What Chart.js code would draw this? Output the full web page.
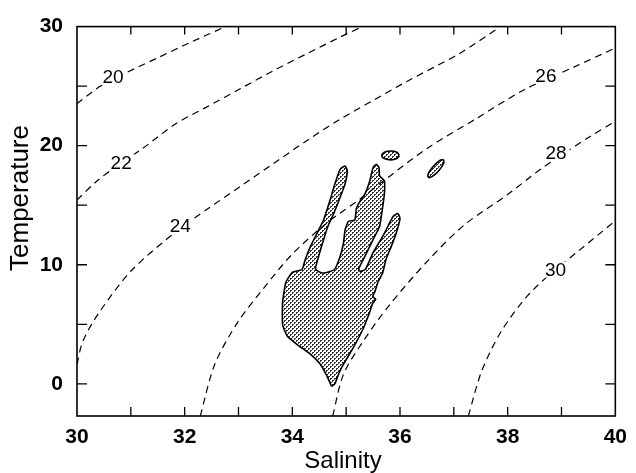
<!DOCTYPE html>
<html>
<head>
<meta charset="utf-8">
<script src="https://cdn.jsdelivr.net/npm/chart.js@4/dist/chart.umd.min.js"></script>
<style>
  html, body { margin: 0; padding: 0; background: #fff; }
</style>
</head>
<body>
<canvas id="ts" width="636" height="473"></canvas>
<script>
// axis ticks
const xTicks = [30, 32, 34, 36, 38, 40];
const yTicks = [0, 10, 20, 30];
const xMinor = [31, 32, 33, 34, 35, 36, 37, 38, 39];
const yMinor = [0, 5, 10, 15, 20, 25];

// sigma-t contours, [salinity, temperature]
const sigma20 = [[30.0, 23.55], [30.47, 25.1], [30.9, 26.1], [31.51, 27.4], [32.12, 28.7], [32.76, 30.0]];
const sigma22 = [[30.0, 15.44], [30.35, 16.95], [30.81, 18.55], [31.2, 19.7], [31.82, 21.8], [32.43, 23.3], [33.04, 24.8], [33.65, 26.3], [34.26, 27.7], [34.88, 29.1], [35.3, 30.0]];
const sigma24 = [[30.0, 1.65], [30.11, 3.6], [30.42, 6.05], [31.03, 9.6], [31.9, 13.0], [32.43, 14.7], [33.04, 16.6], [33.65, 18.5], [34.26, 20.4], [34.88, 22.2], [35.5, 23.8], [36.17, 25.5], [37.09, 27.7], [37.85, 29.95]];
const sigma26 = [[32.29, -2.7], [32.56, 1.65], [32.99, 5.2], [33.48, 8.1], [34.0, 10.9], [34.64, 13.5], [35.25, 15.5], [35.74, 17.2], [36.48, 19.7], [37.39, 22.2], [38.31, 24.7], [39.23, 26.6], [40.0, 28.2]];
const sigma28 = [[34.75, -2.7], [34.95, 0.8], [35.32, 3.6], [35.8, 6.6], [36.54, 10.45], [37.21, 13.4], [38.0, 15.9], [38.62, 18.05], [39.54, 20.8], [40.0, 22.05]];
const sigma30 = [[37.27, -2.7], [37.52, 1.1], [37.88, 4.4], [38.37, 7.4], [38.86, 9.5], [39.3, 11.1], [40.0, 13.7]];

const contourLabels = ['20', '22', '24', '26', '28', '30'];
const labelS = [30.67, 30.82, 31.92, 38.71, 38.9, 38.89];
const labelT = [25.8, 18.6, 13.3, 25.9, 19.4, 9.6];

// shaded water-mass outline
const hand = [[34.73, -0.22], [34.64, 0.69], [34.52, 1.65], [34.34, 2.48], [34.09, 3.30], [33.91, 3.99], [33.82, 4.95], [33.82, 6.88], [33.88, 8.53], [34.00, 9.36], [34.18, 9.60], [34.24, 10.45], [34.34, 11.56], [34.46, 12.66], [34.58, 13.76], [34.70, 15.41], [34.79, 16.79], [34.89, 18.03], [34.98, 18.30], [35.02, 17.89], [34.98, 16.79], [34.89, 15.69], [34.77, 14.31], [34.67, 13.34], [34.58, 12.11], [34.49, 10.73], [34.43, 9.63], [34.55, 9.31], [34.70, 9.44], [34.79, 9.63], [34.89, 10.73], [34.95, 11.83], [34.98, 12.93], [35.04, 13.63], [35.16, 13.76], [35.19, 14.72], [35.25, 15.28], [35.35, 15.96], [35.44, 17.06], [35.50, 18.17], [35.56, 18.44], [35.61, 18.17], [35.62, 17.47], [35.71, 17.06], [35.71, 15.96], [35.67, 14.58], [35.62, 13.21], [35.50, 12.11], [35.35, 10.73], [35.23, 9.63], [35.27, 9.44], [35.36, 9.63], [35.50, 11.01], [35.68, 12.39], [35.87, 14.04], [35.96, 14.31], [36.00, 13.90], [35.93, 12.66], [35.84, 11.56], [35.74, 10.45], [35.68, 9.36], [35.59, 8.53], [35.53, 7.70], [35.49, 7.35], [35.55, 7.10], [35.49, 6.74], [35.44, 6.05], [35.32, 4.67], [35.13, 3.02], [34.95, 1.65], [34.86, 0.83], [34.79, 0.00], [34.73, -0.22]];
const blobA = [[35.99, 19.18], [35.94, 19.45], [35.83, 19.55], [35.71, 19.45], [35.66, 19.18], [35.71, 18.92], [35.83, 18.81], [35.94, 18.92], [35.99, 19.18]];
const blobB = [[36.81, 18.84], [36.81, 18.50], [36.72, 17.90], [36.60, 17.42], [36.53, 17.34], [36.53, 17.69], [36.62, 18.28], [36.74, 18.76], [36.81, 18.84]];

const FONT = '"Liberation Sans", Arial, Helvetica, sans-serif';

function toXY(arr) {
    return arr.map(p => ({ x: p[0], y: p[1] }));
}

// dotted fill like the printed stipple
function stipple() {
    let c = document.createElement('canvas');
    c.width = 4; c.height = 4;
    let g = c.getContext('2d');
    g.fillStyle = '#fff';
    g.fillRect(0, 0, 4, 4);
    g.fillStyle = '#333';
    [[0, 0], [1, 0], [0, 1], [2, 2], [3, 2], [2, 3]].forEach(p => g.fillRect(p[0], p[1], 1, 1));
    return g.createPattern(c, 'repeat');
}

function contour(arr) {
    return {
        data: toXY(arr),
        showLine: true,
        borderColor: '#000',
        borderWidth: 1.2,
        borderDash: [7, 5],
        pointRadius: 0,
        tension: 0.3,
        fill: false
    };
}

function patch(arr, tension) {
    return {
        data: toXY(arr),
        showLine: true,
        borderColor: '#000',
        borderWidth: 1.6,
        backgroundColor: stipple(),
        pointRadius: 0,
        tension: tension,
        fill: 'shape'
    };
}

// frame, inward ticks, contour labels and axis titles
const decorations = {
    id: 'decorations',
    afterDatasetsDraw(chart) {
        const { ctx, chartArea: a, scales: { x, y } } = chart;
        ctx.save();
        ctx.strokeStyle = '#000';
        ctx.setLineDash([]);
        ctx.lineWidth = 1.6;
        ctx.strokeRect(a.left, a.top, a.right - a.left, a.bottom - a.top);
        ctx.lineWidth = 1.3;
        ctx.beginPath();
        xMinor.forEach(v => {
            let px = x.getPixelForValue(v);
            ctx.moveTo(px, a.bottom); ctx.lineTo(px, a.bottom - 9);
            ctx.moveTo(px, a.top); ctx.lineTo(px, a.top + 8);
        });
        yMinor.forEach(v => {
            let py = y.getPixelForValue(v);
            ctx.moveTo(a.left, py); ctx.lineTo(a.left + 10, py);
            ctx.moveTo(a.right, py); ctx.lineTo(a.right - 10, py);
        });
        ctx.stroke();

        ctx.font = '19px ' + FONT;
        ctx.textAlign = 'center';
        ctx.textBaseline = 'middle';
        contourLabels.forEach((t, i) => {
            let px = x.getPixelForValue(labelS[i]);
            let py = y.getPixelForValue(labelT[i]);
            let w = ctx.measureText(t).width;
            ctx.fillStyle = '#fff';
            ctx.fillRect(px - w / 2 - 3, py - 8, w + 6, 16);
            ctx.fillStyle = '#000';
            ctx.fillText(t, px, py + 1);
        });

        ctx.font = '24px ' + FONT;
        ctx.fillText('Salinity', 343, 461);
        ctx.font = '26px ' + FONT;
        ctx.translate(21, 198);
        ctx.rotate(-Math.PI / 2);
        ctx.fillText('Temperature', 0, 0);
        ctx.restore();
    }
};

new Chart(document.getElementById('ts'), {
    type: 'scatter',
    data: {
        datasets: [
            contour(sigma20), contour(sigma22), contour(sigma24),
            contour(sigma26), contour(sigma28), contour(sigma30),
            patch(blobA, 0.4), patch(blobB, 0.4), patch(hand, 0.15)
        ]
    },
    options: {
        responsive: false,
        animation: false,
        layout: { padding: { top: 20, right: 15, left: 0, bottom: 0 } },
        plugins: { legend: { display: false }, tooltip: { enabled: false } },
        scales: {
            x: {
                type: 'linear',
                min: 30, max: 40,
                grid: { display: false, drawTicks: false },
                border: { display: false },
                afterBuildTicks: s => { s.ticks = xTicks.map(v => ({ value: v })); },
                afterFit: s => { s.height = 57; },
                ticks: { color: '#000', padding: 9, maxRotation: 0, font: { family: FONT, size: 21, weight: 'bold' } }
            },
            y: {
                type: 'linear',
                min: -2.7, max: 30,
                grid: { display: false, drawTicks: false },
                border: { display: false },
                afterBuildTicks: s => { s.ticks = yTicks.map(v => ({ value: v })); },
                afterFit: s => { s.width = 77; },
                ticks: { color: '#000', padding: 14, font: { family: FONT, size: 21, weight: 'bold' } }
            }
        }
    },
    plugins: [decorations]
});
</script>
</body>
</html>
